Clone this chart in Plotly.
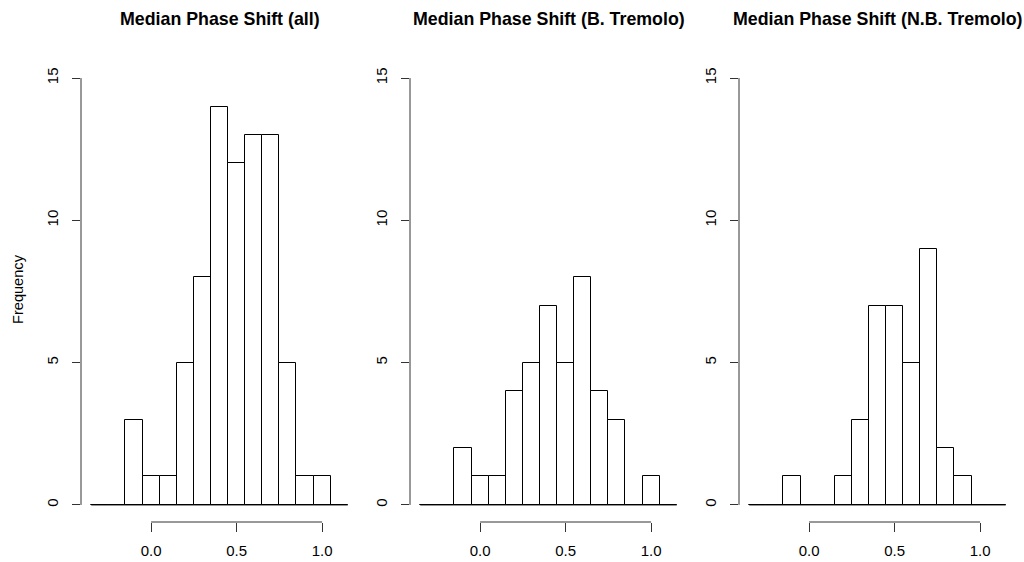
import plotly.graph_objects as go

# ---- data ----
breaks = [-0.35, -0.25, -0.15, -0.05, 0.05, 0.15, 0.25, 0.35, 0.45, 0.55, 0.65, 0.75, 0.85, 0.95, 1.05, 1.15]
counts_all = [0, 0, 3, 1, 1, 5, 8, 14, 12, 13, 13, 5, 1, 1, 0]
counts_btrem = [0, 0, 2, 1, 1, 4, 5, 7, 5, 8, 4, 3, 0, 1, 0]
counts_nbtrem = [0, 0, 1, 0, 0, 1, 3, 7, 7, 5, 9, 2, 1, 0, 0]
titles = ["Median Phase Shift (all)", "Median Phase Shift (B. Tremolo)", "Median Phase Shift (N.B. Tremolo)"]
x_ticks = [0.0, 0.5, 1.0]
x_ticktext = ["0.0", "0.5", "1.0"]
y_ticks = [0, 5, 10, 15]
y_label = "Frequency"

series = [counts_all, counts_btrem, counts_nbtrem]

W, H = 1024, 562
FONT = "Liberation Sans, Arial, Helvetica, sans-serif"
x_dom_px = [(81, 358), (410, 687), (739, 1016)]
y_dom = [1 - 522 / H, 1 - 61 / H]
xr = [-0.41, 1.21]
yr = [-0.6, 15.6]

mids = [(breaks[i] + breaks[i + 1]) / 2 for i in range(len(breaks) - 1)]
widths = [breaks[i + 1] - breaks[i] for i in range(len(breaks) - 1)]

fig = go.Figure()
shapes = []
annotations = []
layout = {}
for k, counts in enumerate(series):
    sfx = "" if k == 0 else str(k + 1)
    xa, ya = "x" + sfx, "y" + sfx
    fig.add_trace(go.Bar(
        x=mids, y=counts, width=widths, xaxis=xa, yaxis=ya,
        marker=dict(color="white", line=dict(color="black", width=1)),
        showlegend=False, hoverinfo="x+y"))
    layout["xaxis" + sfx] = dict(
        domain=[x_dom_px[k][0] / W, x_dom_px[k][1] / W], range=xr, anchor=ya,
        tickvals=x_ticks, ticktext=x_ticktext, ticks="outside", ticklen=9,
        tickcolor="#333", tickwidth=1, showline=False, showgrid=False, zeroline=False,
        tickfont=dict(family=FONT, size=15, color="black"), ticklabelstandoff=6,
        fixedrange=True)
    layout["yaxis" + sfx] = dict(
        domain=y_dom, range=yr, anchor=xa,
        tickvals=y_ticks, ticks="outside", ticklen=8, tickcolor="#333", tickwidth=1,
        tickangle=-90, showline=False, showgrid=False, zeroline=False,
        tickfont=dict(family=FONT, size=15, color="black"), ticklabelstandoff=8,
        fixedrange=True)
    # baseline across all breaks
    shapes.append(dict(type="line", xref=xa, yref=ya, x0=breaks[0], x1=breaks[-1], y0=0, y1=0,
                       line=dict(color="black", width=1)))
    # R-style axis lines spanning first to last tick
    shapes.append(dict(type="line", xref=xa, yref=ya + " domain", x0=x_ticks[0], x1=x_ticks[-1], y0=0, y1=0,
                       line=dict(color="#333", width=1)))
    shapes.append(dict(type="line", xref=xa + " domain", yref=ya, x0=0, x1=0, y0=y_ticks[0], y1=y_ticks[-1],
                       line=dict(color="#333", width=1)))
    annotations.append(dict(text="<b>" + titles[k] + "</b>", xref="paper", yref="paper",
                            x=(x_dom_px[k][0] + x_dom_px[k][1]) / 2 / W, y=1 - 19 / H,
                            xanchor="center", yanchor="middle", showarrow=False,
                            font=dict(family=FONT, size=17.8, color="black")))

annotations.append(dict(text=y_label, xref="paper", yref="paper", x=18 / W, y=1 - 289 / H,
                        xanchor="center", yanchor="middle", textangle=-90, showarrow=False,
                        font=dict(family=FONT, size=14.6, color="black")))

fig.update_layout(
    width=W, height=H, margin=dict(l=0, r=0, t=0, b=0),
    paper_bgcolor="white", plot_bgcolor="white", bargap=0,
    shapes=shapes, annotations=annotations, **layout)

fig.write_html("out.html")
